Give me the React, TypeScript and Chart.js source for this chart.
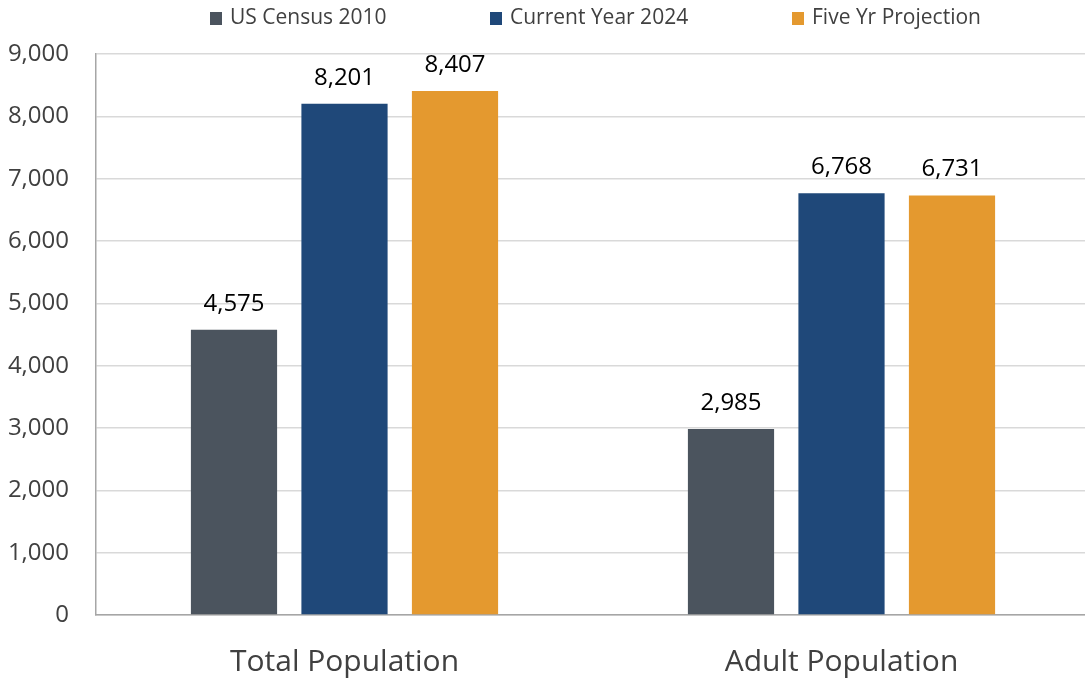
import React, { useEffect, useRef } from "react";
import { Chart, registerables } from "chart.js";

Chart.register(...registerables);

const categories = ["Total Population", "Adult Population"];
const seriesNames = ["US Census 2010", "Current Year 2024", "Five Yr Projection"];
const census2010 = [4575, 2985];
const current2024 = [8201, 6768];
const projection = [8407, 6731];
const seriesColors = ["#4b545e", "#1f4879", "#e4992f"];

const FONT = "'Open Sans', 'Noto Sans', sans-serif";
const fmt = (v: number) => v.toLocaleString("en-US");

// Legend row drawn across the top of the canvas
const topLegend = {
  id: "topLegend",
  afterDraw(chart: any) {
    const ctx = chart.ctx;
    const starts = [210, 490, 792];
    ctx.save();
    ctx.font = `21px ${FONT}`;
    ctx.textBaseline = "middle";
    ctx.textAlign = "left";
    chart.data.datasets.forEach((ds: any, i: number) => {
      ctx.fillStyle = ds.backgroundColor;
      ctx.fillRect(starts[i], 12, 12, 13);
      ctx.fillStyle = "#404040";
      ctx.fillText(ds.label, starts[i] + 20, 18);
    });
    ctx.restore();
  },
};

// Value labels above each bar
const valueLabels = {
  id: "valueLabels",
  afterDatasetsDraw(chart: any) {
    const ctx = chart.ctx;
    ctx.save();
    ctx.font = `24px ${FONT}`;
    ctx.fillStyle = "#000000";
    ctx.textAlign = "center";
    ctx.textBaseline = "bottom";
    chart.data.datasets.forEach((ds: any, i: number) => {
      const meta = chart.getDatasetMeta(i);
      meta.data.forEach((bar: any, j: number) => {
        ctx.fillText(fmt(ds.data[j]), bar.x, bar.y - 14);
      });
    });
    ctx.restore();
  },
};

export default function App() {
  const ref = useRef<HTMLCanvasElement>(null);

  useEffect(() => {
    document.body.style.margin = "0";
    const chart = new Chart(ref.current!, {
      type: "bar",
      data: {
        labels: categories,
        datasets: [census2010, current2024, projection].map((d, i) => ({
          label: seriesNames[i],
          data: d,
          backgroundColor: seriesColors[i],
          barPercentage: 0.78,
          categoryPercentage: 0.667,
        })),
      },
      options: {
        animation: false,
        responsive: false,
        layout: { padding: { top: 54, right: 0, left: 0, bottom: 0 } },
        plugins: {
          legend: { display: false },
          tooltip: { enabled: false },
        },
        scales: {
          x: {
            grid: { display: false, drawTicks: false },
            border: { color: "#a6a6a6", width: 1.5 },
            ticks: {
              color: "#404040",
              font: { family: FONT, size: 30 },
              padding: 29,
            },
            afterFit(scale: any) {
              scale.height = 70;
            },
          },
          y: {
            min: 0,
            max: 9000,
            grid: { color: "#d9d9d9", lineWidth: 1.5, drawTicks: false },
            border: { color: "#a6a6a6", width: 1.5 },
            ticks: {
              stepSize: 1000,
              color: "#404040",
              font: { family: FONT, size: 24 },
              padding: 27,
              callback: (v: any) => fmt(Number(v)),
            },
            afterFit(scale: any) {
              scale.width = 96;
            },
          },
        },
      },
      plugins: [topLegend, valueLabels],
    });
    return () => chart.destroy();
  }, []);

  return (
    <div style={{ width: 1085, height: 685, overflow: "hidden" }}>
      <canvas ref={ref} width={1090} height={685} style={{ display: "block" }} />
    </div>
  );
}
